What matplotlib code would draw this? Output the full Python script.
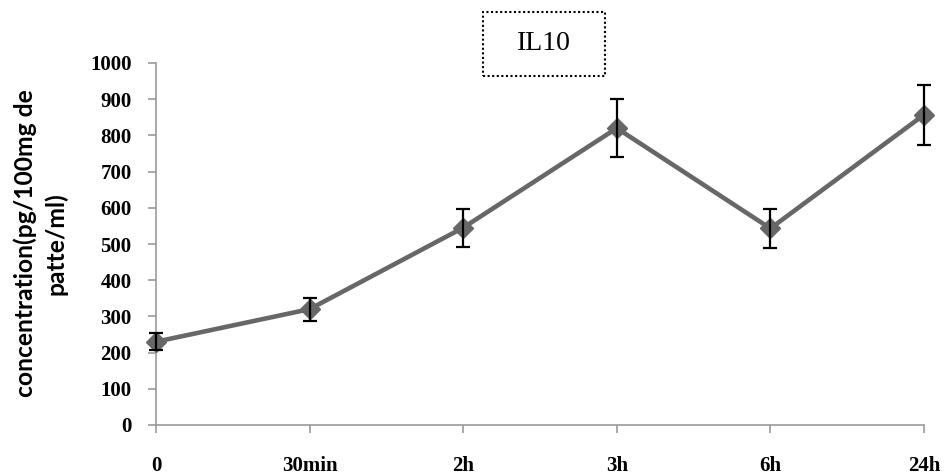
import matplotlib
matplotlib.use("Agg")
import matplotlib.pyplot as plt
from matplotlib.patches import Rectangle

categories = ["0", "30min", "2h", "3h", "6h", "24h"]
values = [230, 320, 545, 820, 543, 857]
errors = [23, 32, 53, 80, 55, 83]
y_ticks = [0, 100, 200, 300, 400, 500, 600, 700, 800, 900, 1000]
ylabel_lines = ["concentration(pg/100mg de", "patte/ml)"]
title = "IL10"

W, H = 944, 475
fig = plt.figure(figsize=(W / 100, H / 100), dpi=100)
ax = fig.add_axes([156/W, 1-425/H, (924-156)/W, (425-63)/H])

x = list(range(len(categories)))
ax.plot(x, values, color="#676767", lw=3.3, marker="D", markersize=10.5,
        markerfacecolor="#676767", markeredgecolor="#676767", zorder=3, clip_on=False)
ax.errorbar(x, values, yerr=errors, fmt="none", ecolor="black", elinewidth=1.6,
            capsize=4.7, capthick=1.6, zorder=4, clip_on=False)

ax.set_xlim(0, len(categories) - 1)
ax.set_ylim(0, 1000)
ax.set_xticks(x)
ax.set_xticklabels(categories)
ax.set_yticks(y_ticks)
ax.set_yticklabels([str(v) for v in y_ticks])

for s in ["top", "right"]:
    ax.spines[s].set_visible(False)
for s in ["left", "bottom"]:
    ax.spines[s].set_color("#999999")
    ax.spines[s].set_linewidth(1.2)

ax.tick_params(axis="y", direction="out", length=5.5, width=1.2, color="#999999", pad=12)
ax.tick_params(axis="x", direction="out", length=5.5, width=1.2, color="#999999", pad=17)
for lab in ax.get_yticklabels() + ax.get_xticklabels():
    lab.set_fontfamily("Liberation Serif")
    lab.set_fontweight("bold")
    lab.set_fontsize(15)

# y label as two rotated lines, font size fitted to the reference width
renderer = fig.canvas.get_renderer()
probe = fig.text(0, 0, ylabel_lines[0], fontfamily="Lato", fontweight="bold", fontsize=10)
w10 = probe.get_window_extent(renderer).width
probe.remove()
fs = 10 * 309 / w10
fig.text(25.5/W, 1-243/H, ylabel_lines[0], fontfamily="Lato", fontweight="bold",
         fontsize=fs, rotation=90, ha="center", va="center")
fig.text(56/W, 1-244/H, ylabel_lines[1], fontfamily="Lato", fontweight="bold",
         fontsize=fs, rotation=90, ha="center", va="center")

fig.patches.append(Rectangle((483/W, 1-76/H), 122/W, 64/H, transform=fig.transFigure,
                             fill=False, edgecolor="black", linestyle=(0, (1, 1.2)), lw=1.5))
fig.text(544/W, 1-44/H, title, fontfamily="Liberation Serif", fontsize=20,
         ha="center", va="center")

fig.savefig("out.png", dpi=100)
